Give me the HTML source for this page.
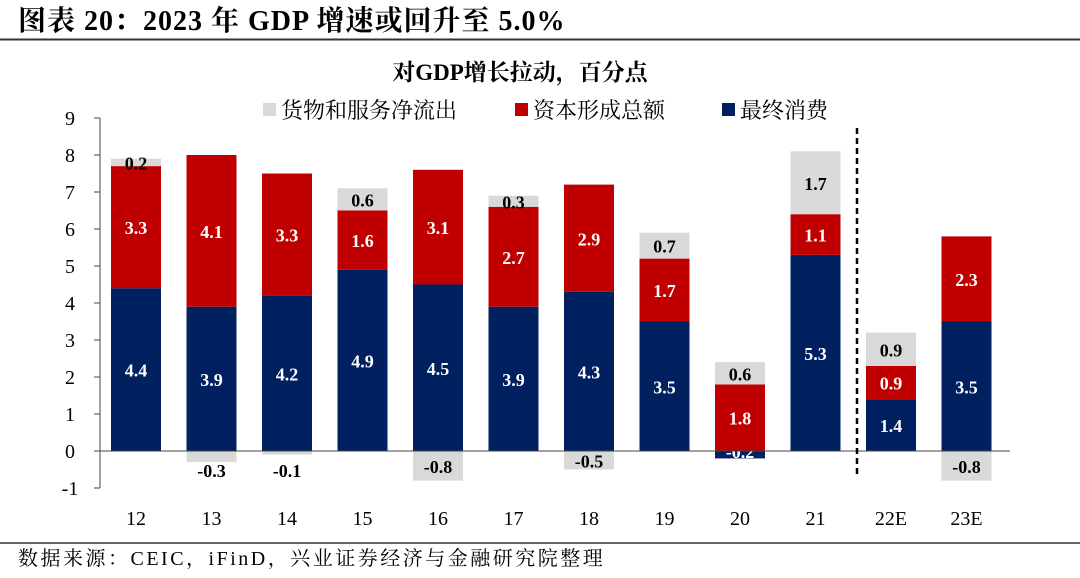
<!DOCTYPE html>
<html><head><meta charset="utf-8"><style>
body{margin:0;background:#fff;width:1080px;height:573px;overflow:hidden;font-family:"Liberation Serif","Noto Serif CJK SC",serif}
</style></head><body>
<svg width="1080" height="573" viewBox="0 0 1080 573" xmlns="http://www.w3.org/2000/svg" font-family="Liberation Serif, Noto Serif CJK SC, serif">
<text x="18" y="30" font-size="28" font-weight="bold" letter-spacing="1" fill="#000">图表 20：2023 年 GDP 增速或回升至 5.0%</text>
<line x1="0" y1="39.5" x2="1080" y2="39.5" stroke="#333" stroke-width="2"/>
<text x="520" y="80" font-size="23" font-weight="bold" text-anchor="middle">对GDP增长拉动，百分点</text>
<g font-size="22">
<rect x="263" y="103" width="13" height="13" fill="#d9d9d9"/><text x="281" y="118">货物和服务净流出</text>
<rect x="515" y="103" width="13" height="13" fill="#c00000"/><text x="533" y="118">资本形成总额</text>
<rect x="722" y="103" width="13" height="13" fill="#002060"/><text x="740" y="118">最终消费</text>
</g>
<g id="chart"></g>
<line x1="0" y1="543" x2="1080" y2="543" stroke="#333" stroke-width="1.5"/>
<text x="18" y="565" font-size="20" letter-spacing="2.5">数据来源：CEIC，iFinD，兴业证券经济与金融研究院整理</text>
</svg>
<script>
const categories=["12","13","14","15","16","17","18","19","20","21","22E","23E"];
const consumption=[4.4,3.9,4.2,4.9,4.5,3.9,4.3,3.5,-0.2,5.3,1.4,3.5];
const capital=[3.3,4.1,3.3,1.6,3.1,2.7,2.9,1.7,1.8,1.1,0.9,2.3];
const netExports=[0.2,-0.3,-0.1,0.6,-0.8,0.3,-0.5,0.7,0.6,1.7,0.9,-0.8];
const yTicks=[-1,0,1,2,3,4,5,6,7,8,9];
const NS="http://www.w3.org/2000/svg";
const g=document.getElementById('chart');
const y=v=>451-v*37;
const x=i=>136+i*75.5;
const bw=50;
function mk(t,a,p){const e=document.createElementNS(NS,t);for(const k in a)e.setAttribute(k,a[k]);(p||g).appendChild(e);return e;}
let ax=mk('line',{x1:100,y1:y(9),x2:100,y2:y(-1),stroke:'#444','stroke-width':1});


yTicks.forEach(t=>{
 const tk=mk('line',{x1:94,y1:y(t),x2:100,y2:y(t),stroke:'#444'});
 
 
 const tx=mk('text',{x:70,y:y(t)+7,'font-size':20,'text-anchor':'middle'});
 tx.textContent=t;
 
 
});
const series=[[consumption,'#002060','#fff','consumption'],[capital,'#c00000','#fff','capital'],[netExports,'#d9d9d9','#000','net-exports']];
categories.forEach((c,i)=>{
 let pos=0,neg=0;
 series.forEach(([arr,col,tc,nm])=>{
  const v=arr[i];let a,b;
  if(v>=0){a=pos;b=pos+v;pos=b;}else{a=neg;b=neg+v;neg=b;}
  const r=mk('rect',{x:x(i)-bw/2,y:Math.min(y(a),y(b)),width:bw,height:Math.abs(y(a)-y(b)),fill:col});
  
  
  let ly=(y(a)+y(b))/2+7,fc=tc;
  if(v<0&&Math.abs(v)<0.5){ly=y(0)+26;fc='#000';}
  if(v<0&&nm==='consumption'){ly=y(0)+7;fc='#fff';}
  const t=mk('text',{x:x(i),y:ly,'font-size':18,'font-weight':'bold','text-anchor':'middle',fill:fc});
  t.textContent=v.toFixed(1);
  
  
 });
 const xl=mk('text',{x:x(i),y:525,'font-size':20,'text-anchor':'middle'});
 xl.textContent=c;
 
 
});
const zl=mk('line',{x1:100,y1:y(0),x2:1010,y2:y(0),stroke:'#444'});


const dl=mk('line',{x1:857,y1:128,x2:857,y2:478,stroke:'#000','stroke-width':2.5,'stroke-dasharray':'6,4'});


</script>
</body></html>
